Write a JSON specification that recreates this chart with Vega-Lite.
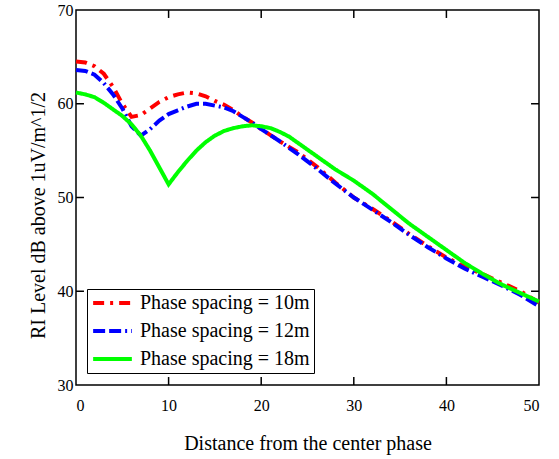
{
  "$schema": "https://vega.github.io/schema/vega-lite/v6.json",
  "width": 463,
  "height": 375,
  "autosize": {"type": "none"},
  "padding": {"left": 76, "top": 10, "right": 20, "bottom": 74},
  "background": "white",
  "config": {
    "view": {"stroke": "black", "strokeWidth": 1.5},
    "font": "Liberation Serif",
    "axis": {"domain": false, "grid": false, "ticks": false, "labelFont": "Liberation Serif", "labelFontSize": 16, "labelColor": "black", "titleFont": "Liberation Serif", "titleFontSize": 20, "titleFontWeight": "normal", "titleColor": "black"}
  },
  "datasets": {
    "curves": [
      {"d": 0, "v": 64.5, "s": "Phase spacing = 10m"},
      {"d": 1, "v": 64.4, "s": "Phase spacing = 10m"},
      {"d": 2, "v": 64.0, "s": "Phase spacing = 10m"},
      {"d": 3, "v": 63.2, "s": "Phase spacing = 10m"},
      {"d": 4, "v": 61.8, "s": "Phase spacing = 10m"},
      {"d": 5, "v": 60.0, "s": "Phase spacing = 10m"},
      {"d": 6, "v": 58.6, "s": "Phase spacing = 10m"},
      {"d": 7, "v": 58.8, "s": "Phase spacing = 10m"},
      {"d": 8, "v": 59.5, "s": "Phase spacing = 10m"},
      {"d": 9, "v": 60.2, "s": "Phase spacing = 10m"},
      {"d": 10, "v": 60.7, "s": "Phase spacing = 10m"},
      {"d": 11, "v": 61.0, "s": "Phase spacing = 10m"},
      {"d": 12, "v": 61.2, "s": "Phase spacing = 10m"},
      {"d": 13, "v": 61.1, "s": "Phase spacing = 10m"},
      {"d": 14, "v": 60.8, "s": "Phase spacing = 10m"},
      {"d": 15, "v": 60.3, "s": "Phase spacing = 10m"},
      {"d": 16, "v": 59.9, "s": "Phase spacing = 10m"},
      {"d": 17, "v": 59.3, "s": "Phase spacing = 10m"},
      {"d": 18, "v": 58.6, "s": "Phase spacing = 10m"},
      {"d": 19, "v": 58.0, "s": "Phase spacing = 10m"},
      {"d": 20, "v": 57.3, "s": "Phase spacing = 10m"},
      {"d": 22, "v": 56.0, "s": "Phase spacing = 10m"},
      {"d": 24, "v": 54.8, "s": "Phase spacing = 10m"},
      {"d": 26, "v": 53.3, "s": "Phase spacing = 10m"},
      {"d": 28, "v": 51.6, "s": "Phase spacing = 10m"},
      {"d": 30, "v": 50.0, "s": "Phase spacing = 10m"},
      {"d": 32, "v": 48.8, "s": "Phase spacing = 10m"},
      {"d": 34, "v": 47.5, "s": "Phase spacing = 10m"},
      {"d": 36, "v": 46.1, "s": "Phase spacing = 10m"},
      {"d": 38, "v": 44.8, "s": "Phase spacing = 10m"},
      {"d": 40, "v": 43.6, "s": "Phase spacing = 10m"},
      {"d": 42, "v": 42.6, "s": "Phase spacing = 10m"},
      {"d": 44, "v": 41.8, "s": "Phase spacing = 10m"},
      {"d": 46, "v": 40.9, "s": "Phase spacing = 10m"},
      {"d": 48, "v": 40.0, "s": "Phase spacing = 10m"},
      {"d": 50, "v": 38.8, "s": "Phase spacing = 10m"},
      {"d": 0, "v": 63.6, "s": "Phase spacing = 12m"},
      {"d": 1, "v": 63.5, "s": "Phase spacing = 12m"},
      {"d": 2, "v": 63.1, "s": "Phase spacing = 12m"},
      {"d": 3, "v": 62.2, "s": "Phase spacing = 12m"},
      {"d": 4, "v": 61.0, "s": "Phase spacing = 12m"},
      {"d": 5, "v": 59.5, "s": "Phase spacing = 12m"},
      {"d": 6, "v": 57.6, "s": "Phase spacing = 12m"},
      {"d": 7, "v": 56.6, "s": "Phase spacing = 12m"},
      {"d": 8, "v": 57.3, "s": "Phase spacing = 12m"},
      {"d": 9, "v": 58.2, "s": "Phase spacing = 12m"},
      {"d": 10, "v": 58.9, "s": "Phase spacing = 12m"},
      {"d": 11, "v": 59.3, "s": "Phase spacing = 12m"},
      {"d": 12, "v": 59.7, "s": "Phase spacing = 12m"},
      {"d": 13, "v": 60.0, "s": "Phase spacing = 12m"},
      {"d": 14, "v": 60.0, "s": "Phase spacing = 12m"},
      {"d": 15, "v": 59.8, "s": "Phase spacing = 12m"},
      {"d": 16, "v": 59.6, "s": "Phase spacing = 12m"},
      {"d": 17, "v": 59.2, "s": "Phase spacing = 12m"},
      {"d": 18, "v": 58.6, "s": "Phase spacing = 12m"},
      {"d": 19, "v": 58.0, "s": "Phase spacing = 12m"},
      {"d": 20, "v": 57.3, "s": "Phase spacing = 12m"},
      {"d": 22, "v": 56.0, "s": "Phase spacing = 12m"},
      {"d": 24, "v": 54.6, "s": "Phase spacing = 12m"},
      {"d": 26, "v": 53.1, "s": "Phase spacing = 12m"},
      {"d": 28, "v": 51.5, "s": "Phase spacing = 12m"},
      {"d": 30, "v": 50.0, "s": "Phase spacing = 12m"},
      {"d": 32, "v": 48.7, "s": "Phase spacing = 12m"},
      {"d": 34, "v": 47.4, "s": "Phase spacing = 12m"},
      {"d": 36, "v": 46.0, "s": "Phase spacing = 12m"},
      {"d": 38, "v": 44.7, "s": "Phase spacing = 12m"},
      {"d": 40, "v": 43.5, "s": "Phase spacing = 12m"},
      {"d": 42, "v": 42.4, "s": "Phase spacing = 12m"},
      {"d": 44, "v": 41.5, "s": "Phase spacing = 12m"},
      {"d": 46, "v": 40.6, "s": "Phase spacing = 12m"},
      {"d": 48, "v": 39.6, "s": "Phase spacing = 12m"},
      {"d": 50, "v": 38.4, "s": "Phase spacing = 12m"},
      {"d": 0, "v": 61.2, "s": "Phase spacing = 18m"},
      {"d": 1, "v": 61.0, "s": "Phase spacing = 18m"},
      {"d": 2, "v": 60.7, "s": "Phase spacing = 18m"},
      {"d": 3, "v": 60.1, "s": "Phase spacing = 18m"},
      {"d": 4, "v": 59.4, "s": "Phase spacing = 18m"},
      {"d": 5, "v": 58.7, "s": "Phase spacing = 18m"},
      {"d": 6, "v": 57.8, "s": "Phase spacing = 18m"},
      {"d": 7, "v": 56.6, "s": "Phase spacing = 18m"},
      {"d": 8, "v": 55.0, "s": "Phase spacing = 18m"},
      {"d": 9, "v": 53.2, "s": "Phase spacing = 18m"},
      {"d": 10, "v": 51.4, "s": "Phase spacing = 18m"},
      {"d": 11, "v": 52.7, "s": "Phase spacing = 18m"},
      {"d": 12, "v": 53.9, "s": "Phase spacing = 18m"},
      {"d": 13, "v": 55.0, "s": "Phase spacing = 18m"},
      {"d": 14, "v": 55.9, "s": "Phase spacing = 18m"},
      {"d": 15, "v": 56.6, "s": "Phase spacing = 18m"},
      {"d": 16, "v": 57.1, "s": "Phase spacing = 18m"},
      {"d": 17, "v": 57.4, "s": "Phase spacing = 18m"},
      {"d": 18, "v": 57.6, "s": "Phase spacing = 18m"},
      {"d": 19, "v": 57.7, "s": "Phase spacing = 18m"},
      {"d": 20, "v": 57.6, "s": "Phase spacing = 18m"},
      {"d": 21, "v": 57.4, "s": "Phase spacing = 18m"},
      {"d": 22, "v": 57.0, "s": "Phase spacing = 18m"},
      {"d": 23, "v": 56.5, "s": "Phase spacing = 18m"},
      {"d": 24, "v": 55.8, "s": "Phase spacing = 18m"},
      {"d": 26, "v": 54.4, "s": "Phase spacing = 18m"},
      {"d": 28, "v": 53.0, "s": "Phase spacing = 18m"},
      {"d": 30, "v": 51.8, "s": "Phase spacing = 18m"},
      {"d": 32, "v": 50.4, "s": "Phase spacing = 18m"},
      {"d": 34, "v": 48.8, "s": "Phase spacing = 18m"},
      {"d": 36, "v": 47.2, "s": "Phase spacing = 18m"},
      {"d": 38, "v": 45.8, "s": "Phase spacing = 18m"},
      {"d": 40, "v": 44.4, "s": "Phase spacing = 18m"},
      {"d": 42, "v": 43.0, "s": "Phase spacing = 18m"},
      {"d": 44, "v": 41.8, "s": "Phase spacing = 18m"},
      {"d": 46, "v": 40.7, "s": "Phase spacing = 18m"},
      {"d": 48, "v": 39.8, "s": "Phase spacing = 18m"},
      {"d": 50, "v": 38.9, "s": "Phase spacing = 18m"}
    ],
    "ticks": [
      {"k": "b10", "tx": 10, "ty": 30}, {"k": "b10", "tx": 10, "ty": 30.85},
      {"k": "b20", "tx": 20, "ty": 30}, {"k": "b20", "tx": 20, "ty": 30.85},
      {"k": "b30", "tx": 30, "ty": 30}, {"k": "b30", "tx": 30, "ty": 30.85},
      {"k": "b40", "tx": 40, "ty": 30}, {"k": "b40", "tx": 40, "ty": 30.85},
      {"k": "t10", "tx": 10, "ty": 70}, {"k": "t10", "tx": 10, "ty": 69.15},
      {"k": "t20", "tx": 20, "ty": 70}, {"k": "t20", "tx": 20, "ty": 69.15},
      {"k": "t30", "tx": 30, "ty": 70}, {"k": "t30", "tx": 30, "ty": 69.15},
      {"k": "t40", "tx": 40, "ty": 70}, {"k": "t40", "tx": 40, "ty": 69.15},
      {"k": "l40", "tx": 0, "ty": 40}, {"k": "l40", "tx": 0.86, "ty": 40},
      {"k": "l50", "tx": 0, "ty": 50}, {"k": "l50", "tx": 0.86, "ty": 50},
      {"k": "l60", "tx": 0, "ty": 60}, {"k": "l60", "tx": 0.86, "ty": 60},
      {"k": "r40", "tx": 50, "ty": 40}, {"k": "r40", "tx": 49.14, "ty": 40},
      {"k": "r50", "tx": 50, "ty": 50}, {"k": "r50", "tx": 49.14, "ty": 50},
      {"k": "r60", "tx": 50, "ty": 60}, {"k": "r60", "tx": 49.14, "ty": 60}
    ]
  },
  "layer": [
    {
      "data": {"name": "curves"},
      "mark": {"type": "line", "strokeWidth": 4},
      "encoding": {
        "x": {"field": "d", "type": "quantitative", "scale": {"domain": [0, 50], "nice": false}, "axis": {"orient": "bottom", "values": [0, 10, 20, 30, 40, 50], "labelPadding": 12, "title": "Distance from the center phase", "titlePadding": 20}},
        "y": {"field": "v", "type": "quantitative", "scale": {"domain": [30, 70], "nice": false, "zero": false}, "axis": {"orient": "left", "values": [30, 40, 50, 60, 70], "labelPadding": 3, "title": "RI Level dB above 1uV/m^1/2", "titlePadding": 9, "titleY": 205}},
        "color": {"field": "s", "type": "nominal", "title": null, "scale": {"domain": ["Phase spacing = 10m", "Phase spacing = 12m", "Phase spacing = 18m"], "range": ["#ff0000", "#0000ff", "#00ff00"]},
          "legend": {"orient": "none", "legendX": 11, "legendY": 279, "strokeColor": "black", "fillColor": "white", "padding": 4, "symbolType": "stroke", "symbolSize": 1500, "symbolStrokeWidth": 4, "clipHeight": 20, "labelOffset": 6, "labelFont": "Liberation Serif", "labelFontSize": 20, "labelColor": "black", "labelLimit": 300, "rowPadding": 8}},
        "strokeDash": {"field": "s", "type": "nominal", "title": null, "scale": {"domain": ["Phase spacing = 10m", "Phase spacing = 12m", "Phase spacing = 18m"], "range": [[11, 6, 3, 6], [12, 4, 12, 4, 2, 4], [1, 0]]},
          "legend": {"orient": "none", "legendX": 11, "legendY": 279, "strokeColor": "black", "fillColor": "white", "padding": 4, "symbolType": "stroke", "symbolSize": 1500, "symbolStrokeWidth": 4, "clipHeight": 20, "labelOffset": 6, "labelFont": "Liberation Serif", "labelFontSize": 20, "labelColor": "black", "labelLimit": 300, "rowPadding": 8}}
      }
    },
    {
      "data": {"name": "ticks"},
      "mark": {"type": "line", "color": "black", "strokeWidth": 1.5},
      "encoding": {
        "x": {"field": "tx", "type": "quantitative"},
        "y": {"field": "ty", "type": "quantitative"},
        "detail": {"field": "k", "type": "nominal"}
      }
    }
  ]
}
